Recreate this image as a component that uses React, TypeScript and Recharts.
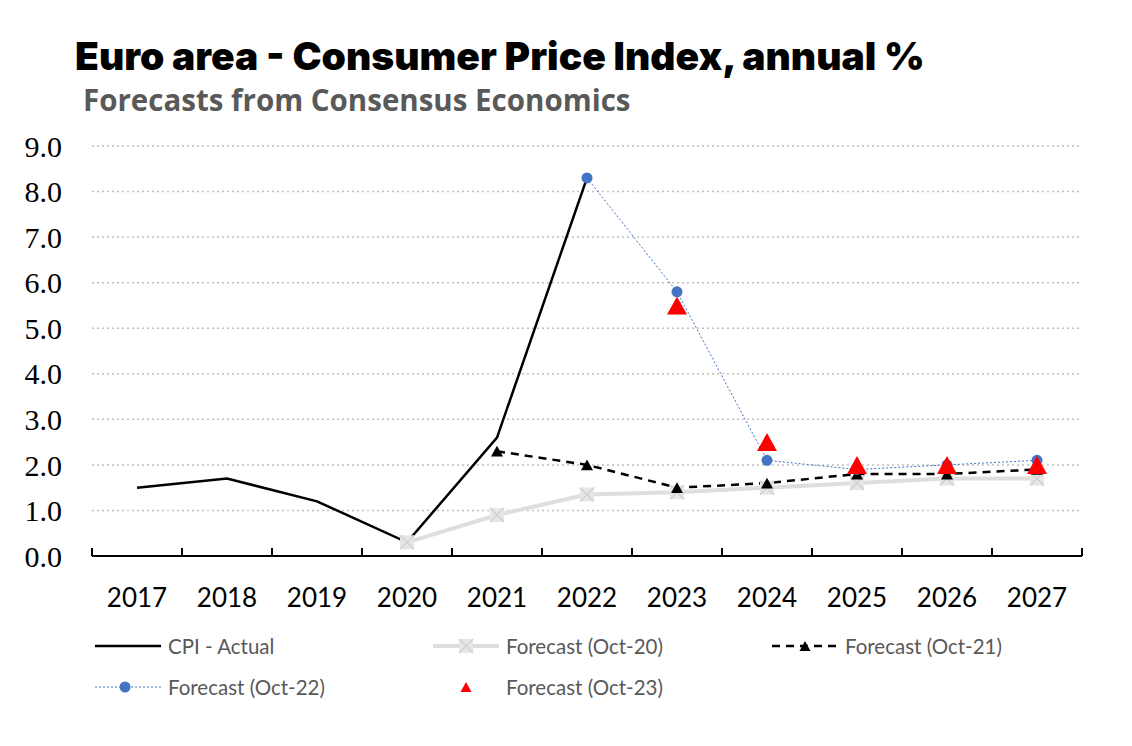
import React from "react";
import { LineChart, Line, XAxis, YAxis, CartesianGrid } from "recharts";

const years = ["2017", "2018", "2019", "2020", "2021", "2022", "2023", "2024", "2025", "2026", "2027"];
const cpiActual = [1.5, 1.7, 1.2, 0.3, 2.6, 8.3, null, null, null, null, null];
const forecastOct20 = [null, null, null, 0.3, 0.9, 1.35, 1.4, 1.5, 1.6, 1.7, 1.7];
const forecastOct21 = [null, null, null, null, 2.3, 2.0, 1.5, 1.6, 1.8, 1.8, 1.9];
const forecastOct22 = [null, null, null, null, null, 8.3, 5.8, 2.1, 1.9, 2.0, 2.1];
const forecastOct23 = [null, null, null, null, null, null, 5.5, 2.5, 2.0, 2.0, 2.0];
const yTicks = [0, 1, 2, 3, 4, 5, 6, 7, 8, 9];

const data = years.map((year, i) => ({
  year,
  cpi: cpiActual[i],
  oct20: forecastOct20[i],
  oct21: forecastOct21[i],
  oct22: forecastOct22[i],
  oct23: forecastOct23[i],
}));

const W = 1116;
const H = 722;
const LEFT = 84;
const RIGHT = 42;
const HALF_BAND = (W - LEFT - RIGHT) / years.length / 2;

const GREY = "#dedede";
const BLUE = "#4472c4";
const RED = "#ff0000";
const SANS = "Lato, 'Open Sans', sans-serif";

// marker shapes, shared by the plot and the legend
function XSquare({ cx, cy }: { cx: number; cy: number }) {
  const s = 7;
  return (
    <g>
      <rect x={cx - s} y={cy - s} width={2 * s} height={2 * s} fill="#e6e6e6" />
      <line x1={cx - s} y1={cy - s} x2={cx + s} y2={cy + s} stroke="#d2d2d2" strokeWidth={1.5} />
      <line x1={cx - s} y1={cy + s} x2={cx + s} y2={cy - s} stroke="#d2d2d2" strokeWidth={1.5} />
    </g>
  );
}

function Tri({ cx, cy, size, fill }: { cx: number; cy: number; size: number; fill: string }) {
  const h = size * 0.9;
  return (
    <path
      d={`M${cx},${cy - h / 2} L${cx + size / 2},${cy + h / 2} L${cx - size / 2},${cy + h / 2} Z`}
      fill={fill}
    />
  );
}

const dotOct20 = (p: any) =>
  p.cx == null || p.cy == null || p.value == null ? <g key={p.key} /> : <XSquare key={p.key} cx={p.cx} cy={p.cy} />;
const dotOct21 = (p: any) =>
  p.cx == null || p.cy == null || p.value == null ? (
    <g key={p.key} />
  ) : (
    <Tri key={p.key} cx={p.cx} cy={p.cy} size={12} fill="#000" />
  );
const dotOct23 = (p: any) =>
  p.cx == null || p.cy == null || p.value == null ? (
    <g key={p.key} />
  ) : (
    <Tri key={p.key} cx={p.cx} cy={p.cy} size={20} fill={RED} />
  );

function XTick(props: any) {
  const { x, y, payload, index } = props;
  return (
    <g>
      <line x1={x - HALF_BAND} y1={y} x2={x - HALF_BAND} y2={y - 8} stroke="#000" strokeWidth={2} />
      {index === years.length - 1 && (
        <line x1={x + HALF_BAND} y1={y} x2={x + HALF_BAND} y2={y - 8} stroke="#000" strokeWidth={2} />
      )}
      <text x={x} y={y + 51} textAnchor="middle" fontFamily={SANS} fontSize={26} fill="#000">
        {payload.value}
      </text>
    </g>
  );
}

const legendItems = [
  { name: "CPI - Actual", col: 0, row: 0, icon: "cpi" },
  { name: "Forecast (Oct-20)", col: 1, row: 0, icon: "oct20" },
  { name: "Forecast (Oct-21)", col: 2, row: 0, icon: "oct21" },
  { name: "Forecast (Oct-22)", col: 0, row: 1, icon: "oct22" },
  { name: "Forecast (Oct-23)", col: 1, row: 1, icon: "oct23" },
];
const legendCols = [87, 425, 764];
const legendRows = [638, 679];

function LegendIcon({ kind }: { kind: string }) {
  const w = 66;
  const c = 10;
  return (
    <svg width={w} height={20} style={{ display: "block" }}>
      {kind === "cpi" && <line x1={0} y1={c} x2={w} y2={c} stroke="#000" strokeWidth={2.5} />}
      {kind === "oct20" && (
        <g>
          <line x1={0} y1={c} x2={w} y2={c} stroke={GREY} strokeWidth={4} />
          <XSquare cx={w / 2} cy={c} />
        </g>
      )}
      {kind === "oct21" && (
        <g>
          <line x1={0} y1={c} x2={w} y2={c} stroke="#000" strokeWidth={2.5} strokeDasharray="8 6" />
          <Tri cx={w / 2} cy={c} size={11} fill="#000" />
        </g>
      )}
      {kind === "oct22" && (
        <g>
          <line x1={0} y1={c} x2={w} y2={c} stroke={BLUE} strokeWidth={1} strokeDasharray="2 2" />
          <circle cx={w / 2 - 3} cy={c} r={5.5} fill={BLUE} />
        </g>
      )}
      {kind === "oct23" && <Tri cx={w / 2} cy={c} size={11} fill={RED} />}
    </svg>
  );
}

export default function App() {
  return (
    <div style={{ position: "relative", width: W, height: 730, background: "#fff" }}>
      <div
        style={{
          position: "absolute",
          left: 67,
          top: 25,
          fontFamily: "Inter, sans-serif",
          fontWeight: 900,
          fontSize: 39,
          lineHeight: "46px",
          color: "#000",
          whiteSpace: "nowrap",
        }}
      >
        Euro area - Consumer Price Index, annual %
      </div>
      <div
        style={{
          position: "absolute",
          left: 75,
          top: 73,
          fontFamily: "'Open Sans', sans-serif",
          fontWeight: 700,
          fontSize: 29.5,
          lineHeight: "38px",
          color: "#595959",
          whiteSpace: "nowrap",
        }}
      >
        Forecasts from Consensus Economics
      </div>
      <LineChart width={W} height={H} data={data} margin={{ top: 138, right: RIGHT, bottom: 114, left: 0 }}>
        <CartesianGrid vertical={false} stroke="#bfbfbf" strokeDasharray="2 3" strokeWidth={1.5} />
        <XAxis
          dataKey="year"
          scale="band"
          interval={0}
          height={60}
          tickSize={0}
          tickMargin={0}
          tickLine={false}
          axisLine={{ stroke: "#000", strokeWidth: 2 }}
          tick={<XTick />}
        />
        <YAxis
          width={LEFT}
          domain={[0, 9]}
          ticks={yTicks}
          interval={0}
          axisLine={false}
          tickLine={false}
          tickSize={0}
          tickMargin={30}
          tickFormatter={(v: number) => v.toFixed(1)}
          tick={{ fontFamily: "'Liberation Serif', serif", fontSize: 30, fill: "#000" }}
        />
        <Line
          dataKey="oct20"
          stroke={GREY}
          strokeWidth={4}
          dot={dotOct20}
          activeDot={false}
          isAnimationActive={false}
        />
        <Line
          dataKey="cpi"
          stroke="#000"
          strokeWidth={2.5}
          dot={false}
          activeDot={false}
          isAnimationActive={false}
        />
        <Line
          dataKey="oct21"
          stroke="#000"
          strokeWidth={2.5}
          strokeDasharray="8 6"
          dot={dotOct21}
          activeDot={false}
          isAnimationActive={false}
        />
        <Line
          dataKey="oct22"
          stroke={BLUE}
          strokeWidth={1}
          strokeDasharray="2 2"
          dot={{ r: 5.5, fill: BLUE, stroke: "none" }}
          activeDot={false}
          isAnimationActive={false}
        />
        <Line
          dataKey="oct23"
          stroke="none"
          dot={dotOct23}
          activeDot={false}
          isAnimationActive={false}
        />
      </LineChart>
      {legendItems.map((item) => (
        <div
          key={item.name}
          style={{
            position: "absolute",
            left: legendCols[item.col],
            top: legendRows[item.row] - 13,
            height: 26,
            display: "flex",
            alignItems: "center",
            gap: 7,
            fontFamily: SANS,
            fontSize: 20.5,
            color: "#595959",
            whiteSpace: "nowrap",
          }}
        >
          <LegendIcon kind={item.icon} />
          <span>{item.name}</span>
        </div>
      ))}
    </div>
  );
}
